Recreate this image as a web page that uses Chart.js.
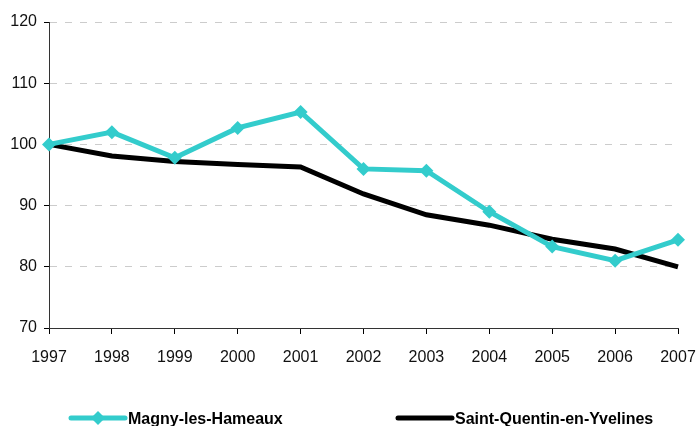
<!DOCTYPE html>
<html><head><meta charset="utf-8">
<script src="https://cdn.jsdelivr.net/npm/chart.js@4"></script>
<style>html,body{margin:0;padding:0;background:#fff}#wrap{width:696px;height:426px;position:relative}</style>
</head><body><div id="wrap"><canvas id="c" width="696" height="426"></canvas></div>
<script>
const years = ['1997','1998','1999','2000','2001','2002','2003','2004','2005','2006','2007'];
const magny = [100, 102.0, 97.8, 102.7, 105.3, 96.0, 95.7, 89.0, 83.3, 81.0, 84.4];
const sqy = [100, 98.1, 97.2, 96.7, 96.3, 91.9, 88.5, 86.8, 84.5, 82.9, 80.0];
const seriesNames = ['Magny-les-Hameaux', 'Saint-Quentin-en-Yvelines'];
const FONT = '"Liberation Sans Narrow", "Arial Narrow", "Liberation Sans", Arial, sans-serif';

const legendPlugin = {
  id: 'customLegend',
  afterDraw(chart) {
    const ctx = chart.ctx;
    const y = 418;
    const items = [{x: 71, ds: chart.data.datasets[0]}, {x: 398, ds: chart.data.datasets[1]}];
    ctx.save();
    items.forEach(it => {
      ctx.strokeStyle = it.ds.borderColor;
      ctx.lineWidth = 5;
      ctx.lineCap = 'round';
      ctx.beginPath(); ctx.moveTo(it.x, y); ctx.lineTo(it.x + 54, y); ctx.stroke();
      if (it.ds.pointRadius > 0) {
        ctx.fillStyle = it.ds.borderColor;
        const cx = it.x + 27, r = 7;
        ctx.beginPath(); ctx.moveTo(cx, y - r); ctx.lineTo(cx + r, y); ctx.lineTo(cx, y + r); ctx.lineTo(cx - r, y); ctx.closePath(); ctx.fill();
      }
      ctx.fillStyle = '#000';
      ctx.font = 'bold 16px ' + FONT;
      ctx.textBaseline = 'middle';
      ctx.textAlign = 'left';
      ctx.fillText(it.ds.label, it.x + 57, y + 2);
    });
    ctx.restore();
  }
};

new Chart(document.getElementById('c'), {
  type: 'line',
  data: {
    labels: years,
    datasets: [
      {label: seriesNames[0], data: magny, borderColor: '#33CCCC', backgroundColor: '#33CCCC', borderWidth: 5,
       pointStyle: 'rectRot', pointRadius: 7, pointBorderWidth: 0, tension: 0},
      {label: seriesNames[1], data: sqy, borderColor: '#000000', backgroundColor: '#000000', borderWidth: 5,
       pointRadius: 0, tension: 0}
    ]
  },
  options: {
    responsive: false, animation: false,
    layout: {padding: {top: 22, right: 0, bottom: 58, left: 0}},
    plugins: {legend: {display: false}, tooltip: {enabled: false}},
    scales: {
      x: {
        offset: false,
        grid: {drawOnChartArea: false, drawTicks: true, tickLength: 6, tickColor: '#000'},
        border: {display: true, color: '#333', width: 1},
        ticks: {color: '#111', font: {family: FONT, size: 16}, padding: 14, maxRotation: 0, autoSkip: false},
        afterFit(s) { s.height = 40; s.paddingRight = 18; s.paddingLeft = 18; }
      },
      y: {
        min: 70, max: 120,
        grid: {color: '#cccccc', lineWidth: 1, drawTicks: true, tickLength: 5, tickColor: '#000'},
        border: {display: true, color: '#333', width: 1, dash: [7, 8]},
        ticks: {stepSize: 10, color: '#111', font: {family: FONT, size: 16}, padding: 7},
        afterFit(s) { s.width = 49; }
      }
    }
  },
  plugins: [legendPlugin]
});
</script>
</body></html>
